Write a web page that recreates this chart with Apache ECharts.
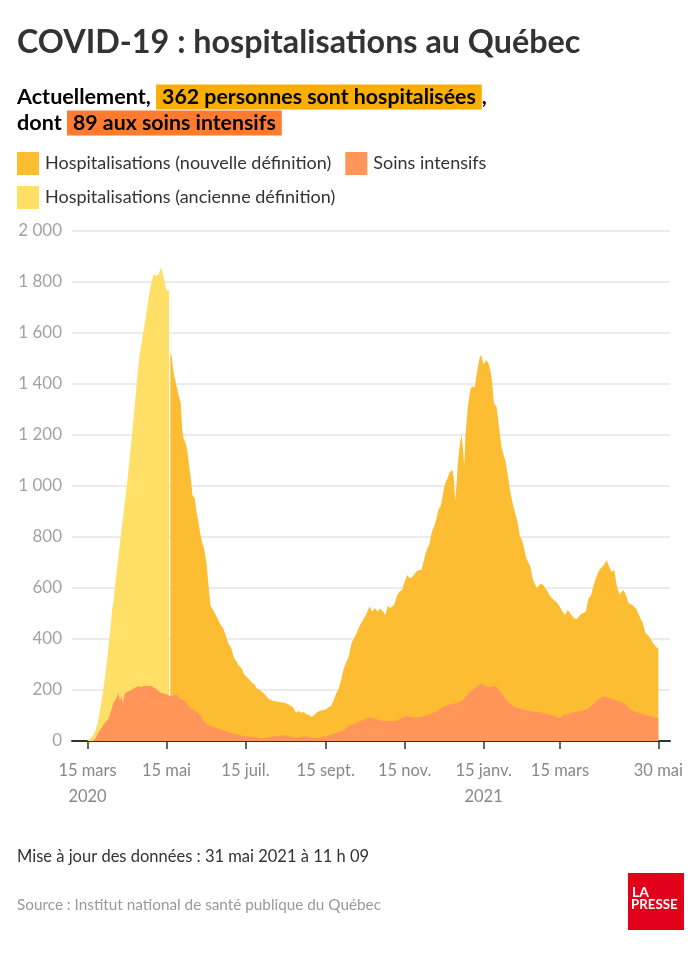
<!DOCTYPE html>
<html><head><meta charset="utf-8">
<script src="https://cdn.jsdelivr.net/npm/echarts@6/dist/echarts.min.js"></script>
<style>html,body{margin:0;padding:0;background:#fff}#c{width:700px;height:955px}</style>
</head><body><div id="c"></div>
<script>
// ---------- DATA ----------
const oldDates = ['2020-03-15','2020-03-17','2020-03-19','2020-03-21','2020-03-23','2020-03-25','2020-03-27','2020-03-29','2020-03-31','2020-04-02','2020-04-03','2020-04-04','2020-04-05','2020-04-06','2020-04-08','2020-04-10','2020-04-12','2020-04-14','2020-04-16','2020-04-18','2020-04-20','2020-04-22','2020-04-24','2020-04-26','2020-04-27','2020-04-29','2020-05-01','2020-05-03','2020-05-05','2020-05-07','2020-05-09','2020-05-11','2020-05-12','2020-05-14','2020-05-15','2020-05-16','2020-05-17'];
const oldValues = [2,10,18,40,75,130,195,270,360,450,520,545,600,640,730,820,900,985,1080,1180,1290,1400,1505,1570,1600,1665,1730,1790,1830,1825,1830,1860,1835,1790,1765,1760,1770];

const newDates = ['2020-05-18','2020-05-19','2020-05-20','2020-05-21','2020-05-22','2020-05-24','2020-05-26','2020-05-27','2020-05-28','2020-05-30','2020-05-31','2020-06-02','2020-06-03','2020-06-04','2020-06-06','2020-06-07','2020-06-09','2020-06-10','2020-06-12','2020-06-13','2020-06-15','2020-06-16','2020-06-18','2020-06-20','2020-06-22','2020-06-24','2020-06-26','2020-06-28','2020-06-30','2020-07-02','2020-07-04','2020-07-06','2020-07-08','2020-07-10','2020-07-12','2020-07-14','2020-07-16','2020-07-18','2020-07-20','2020-07-22','2020-07-24','2020-07-26','2020-07-27','2020-07-29','2020-07-31','2020-08-02','2020-08-05','2020-08-08','2020-08-11','2020-08-14','2020-08-17','2020-08-19','2020-08-21','2020-08-23','2020-08-25','2020-08-27','2020-08-29','2020-08-31','2020-09-02','2020-09-04','2020-09-06','2020-09-08','2020-09-10','2020-09-12','2020-09-15','2020-09-17','2020-09-19','2020-09-21','2020-09-23','2020-09-25','2020-09-27','2020-09-29','2020-10-01','2020-10-03','2020-10-05','2020-10-07','2020-10-09','2020-10-11','2020-10-13','2020-10-16','2020-10-18','2020-10-19','2020-10-21','2020-10-23','2020-10-25','2020-10-27','2020-10-29','2020-10-31','2020-11-02','2020-11-04','2020-11-07','2020-11-09','2020-11-11','2020-11-13','2020-11-15','2020-11-17','2020-11-19','2020-11-21','2020-11-24','2020-11-26','2020-11-28','2020-11-30','2020-12-02','2020-12-04','2020-12-06','2020-12-08','2020-12-09','2020-12-11','2020-12-13','2020-12-15','2020-12-16','2020-12-18','2020-12-20','2020-12-21','2020-12-22','2020-12-23','2020-12-24','2020-12-25','2020-12-26','2020-12-27','2020-12-28','2020-12-29','2020-12-30','2020-12-31','2021-01-01','2021-01-03','2021-01-05','2021-01-07','2021-01-08','2021-01-10','2021-01-12','2021-01-13','2021-01-15','2021-01-17','2021-01-19','2021-01-21','2021-01-22','2021-01-23','2021-01-25','2021-01-27','2021-01-29','2021-02-01','2021-02-03','2021-02-05','2021-02-07','2021-02-10','2021-02-12','2021-02-14','2021-02-17','2021-02-20','2021-02-22','2021-02-25','2021-02-28','2021-03-02','2021-03-05','2021-03-07','2021-03-10','2021-03-12','2021-03-14','2021-03-17','2021-03-19','2021-03-21','2021-03-23','2021-03-26','2021-03-28','2021-03-31','2021-04-04','2021-04-06','2021-04-08','2021-04-10','2021-04-13','2021-04-15','2021-04-18','2021-04-20','2021-04-22','2021-04-24','2021-04-26','2021-04-28','2021-04-30','2021-05-03','2021-05-05','2021-05-07','2021-05-10','2021-05-13','2021-05-15','2021-05-18','2021-05-20','2021-05-23','2021-05-26','2021-05-28','2021-05-30'];
const newValues = [1525,1510,1465,1430,1410,1365,1325,1230,1190,1165,1140,1060,1020,965,950,905,850,815,770,755,695,635,530,515,495,475,455,440,410,380,365,328,312,295,285,262,252,240,228,222,205,200,203,188,176,165,158,155,152,150,145,137,131,111,118,111,114,105,102,94,102,111,118,120,124,131,137,158,185,205,240,285,310,335,385,405,425,450,468,494,518,527,507,522,508,520,510,494,530,522,535,570,586,592,625,651,638,644,664,671,671,712,749,769,821,845,860,906,925,978,1005,1030,1056,1063,1063,1030,940,1000,1082,1135,1175,1200,1148,1078,1200,1320,1383,1392,1383,1450,1505,1515,1476,1494,1478,1432,1383,1325,1311,1226,1148,1095,1030,965,920,865,805,782,716,685,635,600,618,612,590,572,553,546,533,507,494,514,501,480,478,497,507,559,572,612,657,675,690,710,684,664,671,605,575,592,572,540,533,518,494,462,425,409,383,370,362];

const icuDates = ['2020-03-19','2020-03-21','2020-03-23','2020-03-25','2020-03-27','2020-03-29','2020-03-31','2020-04-02','2020-04-04','2020-04-06','2020-04-08','2020-04-09','2020-04-10','2020-04-11','2020-04-13','2020-04-15','2020-04-17','2020-04-19','2020-04-21','2020-04-23','2020-04-25','2020-04-27','2020-04-29','2020-05-01','2020-05-03','2020-05-05','2020-05-07','2020-05-09','2020-05-11','2020-05-13','2020-05-15','2020-05-17','2020-05-19','2020-05-21','2020-05-23','2020-05-25','2020-05-27','2020-05-29','2020-05-31','2020-06-02','2020-06-04','2020-06-06','2020-06-08','2020-06-10','2020-06-12','2020-06-14','2020-06-16','2020-06-19','2020-06-22','2020-06-26','2020-06-30','2020-07-04','2020-07-08','2020-07-13','2020-07-18','2020-07-23','2020-07-27','2020-07-31','2020-08-05','2020-08-10','2020-08-15','2020-08-20','2020-08-25','2020-08-30','2020-09-04','2020-09-09','2020-09-13','2020-09-17','2020-09-21','2020-09-25','2020-09-29','2020-10-03','2020-10-07','2020-10-11','2020-10-15','2020-10-19','2020-10-23','2020-10-27','2020-10-31','2020-11-04','2020-11-08','2020-11-12','2020-11-16','2020-11-20','2020-11-24','2020-11-28','2020-12-02','2020-12-06','2020-12-10','2020-12-14','2020-12-18','2020-12-22','2020-12-26','2020-12-30','2021-01-03','2021-01-07','2021-01-11','2021-01-13','2021-01-15','2021-01-18','2021-01-21','2021-01-24','2021-01-27','2021-01-30','2021-02-02','2021-02-06','2021-02-10','2021-02-14','2021-02-18','2021-02-22','2021-02-26','2021-03-02','2021-03-06','2021-03-10','2021-03-13','2021-03-15','2021-03-17','2021-03-21','2021-03-25','2021-03-29','2021-04-02','2021-04-06','2021-04-10','2021-04-14','2021-04-18','2021-04-22','2021-04-26','2021-04-30','2021-05-04','2021-05-08','2021-05-12','2021-05-16','2021-05-20','2021-05-24','2021-05-28','2021-05-30'];
const icuValues = [0,10,30,45,62,75,85,115,150,165,188,155,180,148,188,192,198,203,210,215,212,216,217,215,217,210,205,195,188,186,183,178,175,180,182,168,163,160,145,130,126,118,112,102,85,72,64,57,52,45,38,30,26,20,18,16,9,14,18,21,23,16,14,20,14,12,18,22,28,35,42,60,68,77,85,92,88,80,78,78,78,88,98,94,92,96,102,108,118,132,140,145,150,160,185,203,218,226,222,212,212,217,200,180,158,138,130,125,120,115,115,110,104,100,92,90,100,106,112,116,120,126,145,165,175,168,162,155,148,125,116,108,103,96,91,89];

const tickDates = ['2020-03-15','2020-05-15','2020-07-15','2020-09-15','2020-11-15','2021-01-15','2021-03-15','2021-05-30'];
const tickLabels = ['15 mars\n2020','15 mai','15 juil.','15 sept.','15 nov.','15 janv.\n2021','15 mars','30 mai'];

const seriesNames = ['Hospitalisations (ancienne définition)','Hospitalisations (nouvelle définition)','Soins intensifs'];
const colors = ['#FFDF66','#FDBD33','#FF9559'];

// ---------- HELPERS ----------
function ts(s){const p=s.split('-').map(Number);return Date.UTC(p[0],p[1]-1,p[2]);}
function pairs(d,v){return d.map((x,i)=>[ts(x),v[i]]);}
const tickTs = tickDates.map(ts);
const FONT = 'Lato, "Noto Sans", sans-serif';

function areaSeries(i,data){
  return {name:seriesNames[i],type:'line',data:data,showSymbol:false,symbol:'none',
    color:colors[i],itemStyle:{color:colors[i]},lineStyle:{width:0,color:colors[i]},
    areaStyle:{color:colors[i],opacity:1},silent:true,animation:false,z:2+i};
}

const chart = echarts.init(document.getElementById('c'),null,{renderer:'canvas'});
chart.setOption({
  backgroundColor:'#fff',
  animation:false,
  textStyle:{fontFamily:FONT},
  grid:{left:72,right:30,top:231,bottom:214,containLabel:false},
  legend:[
    {left:17,top:152,padding:0,itemWidth:22,itemHeight:23,itemGap:14,icon:'rect',selectedMode:false,
     data:[seriesNames[1],seriesNames[2]],textStyle:{fontFamily:FONT,fontSize:18,color:'#333',padding:[0,0,0,1]}},
    {left:17,top:186,padding:0,itemWidth:22,itemHeight:23,icon:'rect',selectedMode:false,
     data:[seriesNames[0]],textStyle:{fontFamily:FONT,fontSize:18,color:'#333',padding:[0,0,0,1]}}
  ],
  xAxis:{type:'value',min:ts('2020-03-03'),max:ts('2021-06-08'),scale:true,
    axisLine:{show:true,onZero:false,lineStyle:{color:'#333',width:2}},
    axisTick:{show:true,customValues:tickTs,length:8,lineStyle:{color:'#333',width:1.5}},
    axisLabel:{customValues:tickTs,hideOverlap:false,margin:17,color:'#888',fontSize:16.5,lineHeight:26,fontFamily:FONT,
      formatter:function(v){for(let i=0;i<tickTs.length;i++){if(Math.abs(tickTs[i]-v)<43200000)return tickLabels[i];}return '';}},
    splitLine:{show:false}},
  yAxis:{type:'value',min:0,max:2000,interval:200,
    axisLine:{show:false},axisTick:{show:false},
    axisLabel:{margin:10,color:'#a3a3a3',fontSize:17,fontFamily:FONT,
      formatter:function(v){return String(v).replace(/\B(?=(\d{3})+(?!\d))/g,' ');}},
    splitLine:{lineStyle:{color:'#e4e4e4',width:1.5}}},
  series:[areaSeries(0,pairs(oldDates,oldValues)),areaSeries(1,pairs(newDates,newValues)),areaSeries(2,pairs(icuDates,icuValues))],
  graphic:[
    {type:'text',x:17,y:43,style:{text:'COVID-19 : hospitalisations au Québec',font:'bold 32.3px '+FONT,fill:'#333',verticalAlign:'middle'}},
    {type:'text',x:17,y:97,style:{text:'{b|Actuellement, }{h|362 personnes sont hospitalisées}{b|,}',verticalAlign:'middle',
      rich:{b:{font:'bold 21.6px '+FONT,color:'#333',lineHeight:26},
            h:{font:'bold 21.3px '+FONT,color:'#fff',backgroundColor:'#F9AE00',padding:[2,6,2,6],lineHeight:22}}}},
    {type:'text',x:17,y:123,style:{text:'{b|dont }{h|89 aux soins intensifs}',verticalAlign:'middle',
      rich:{b:{font:'bold 21.6px '+FONT,color:'#333',lineHeight:26},
            h:{font:'bold 21.3px '+FONT,color:'#fff',backgroundColor:'#FF7B30',padding:[2,6,2,6],lineHeight:22}}}},
    {type:'text',x:17,y:857,style:{text:'Mise à jour des données : 31 mai 2021 à 11 h 09',font:'16.5px '+FONT,fill:'#333',verticalAlign:'middle'}},
    {type:'text',x:17,y:905,style:{text:'Source : Institut national de santé publique du Québec',font:'15.3px '+FONT,fill:'#999',verticalAlign:'middle'}},
    {type:'rect',shape:{x:628,y:873,width:56,height:57},style:{fill:'#E2001A'}},
    {type:'text',x:632,y:892,style:{text:'LA',font:'bold 14px '+FONT,fill:'#fff',verticalAlign:'middle'}},
    {type:'text',x:631,y:905,style:{text:'PRESSE',font:'bold 13.3px '+FONT,fill:'#fff',verticalAlign:'middle'}}
  ]
});
</script></body></html>
